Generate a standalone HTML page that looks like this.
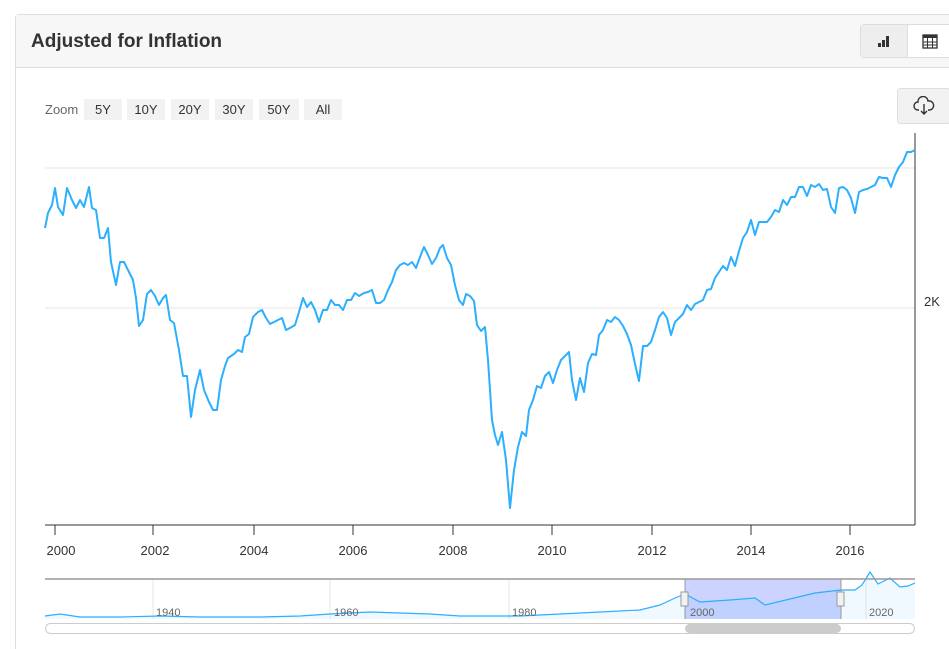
<!DOCTYPE html>
<html style="height:649px;overflow:hidden"><head><meta charset="utf-8"><style>
body{margin:0;background:#fff;width:949px;height:649px;overflow:hidden;font-family:"Liberation Sans",sans-serif;position:relative}
.card{position:absolute;left:15px;top:14px;width:960px;height:634px;border:1px solid #ddd;border-bottom:none;border-radius:4px 4px 0 0}
.hdr{position:absolute;left:0;top:0;right:0;height:52px;background:#f7f7f7;border-bottom:1px solid #ddd}
.title{position:absolute;left:15px;top:16px;font-size:19px;font-weight:bold;color:#333}
.bt{position:absolute;left:860px;top:24px;width:100px;height:32px;border:1px solid #ddd;border-radius:4px;background:#fff}
.bt1{position:absolute;left:0;top:0;width:46px;height:32px;background:#eee;border-right:1px solid #ddd}
.zoom{position:absolute;top:99px;font-size:13px;color:#666}
.zb{position:absolute;top:99px;height:21px;background:#f2f2f2;font-size:13px;color:#333;text-align:center;line-height:21px}
.dl{position:absolute;left:897px;top:88px;width:52px;height:34px;background:#f2f2f2;border:1px solid #ddd;border-radius:4px}
</style></head><body>
<div class="card"><div class="hdr"><div class="title">Adjusted for Inflation</div></div></div>
<div class="bt"><div class="bt1"></div>
<svg style="position:absolute;left:16px;top:9px" width="14" height="14"><rect x="1" y="9" width="3" height="4" fill="#333"/><rect x="5" y="6" width="3" height="7" fill="#333"/><rect x="9" y="2" width="3" height="11" fill="#333"/></svg>
<svg style="position:absolute;left:61px;top:9px" width="16" height="16"><rect x="1" y="1" width="14" height="13" fill="none" stroke="#333" stroke-width="1.3"/><rect x="1" y="1" width="14" height="3" fill="#333"/><path d="M1 8H15M1 11H15M5.5 4V14M10.5 4V14" stroke="#333"/></svg></div>
<div class="zoom" style="left:45px;top:102px">Zoom</div>
<div class="zb" style="left:84px;width:38px">5Y</div>
<div class="zb" style="left:127px;width:38px">10Y</div>
<div class="zb" style="left:171px;width:38px">20Y</div>
<div class="zb" style="left:215px;width:38px">30Y</div>
<div class="zb" style="left:259px;width:40px">50Y</div>
<div class="zb" style="left:304px;width:38px">All</div>
<div class="dl"><svg style="position:absolute;left:15px;top:7px" width="22" height="20"><path d="M6 14H5a4 4 0 0 1 0-8 5 5 0 0 1 10-1 4 4 0 0 1 2 9h-2" fill="none" stroke="#333" stroke-width="1.4"/><path d="M11 8V18M8 15l3 3 3-3" fill="none" stroke="#333" stroke-width="1.4"/></svg></div>
<svg style="position:absolute;left:0;top:0" width="949" height="649">
<line x1="45" y1="168" x2="915" y2="168" stroke="#e6e6e6"/>
<line x1="45" y1="308" x2="915" y2="308" stroke="#e6e6e6"/>
<line x1="915" y1="133" x2="915" y2="525" stroke="#333"/>
<line x1="45" y1="525" x2="915" y2="525" stroke="#333"/>
<text x="924" y="306" font-size="13" fill="#333">2K</text>
<g stroke="#333"><line x1="55" y1="525" x2="55" y2="535"/><line x1="153" y1="525" x2="153" y2="535"/><line x1="254" y1="525" x2="254" y2="535"/><line x1="353" y1="525" x2="353" y2="535"/><line x1="453" y1="525" x2="453" y2="535"/><line x1="552" y1="525" x2="552" y2="535"/><line x1="652" y1="525" x2="652" y2="535"/><line x1="751" y1="525" x2="751" y2="535"/><line x1="850" y1="525" x2="850" y2="535"/></g>
<g font-size="13" fill="#333" text-anchor="middle"><text x="61" y="555">2000</text><text x="155" y="555">2002</text><text x="254" y="555">2004</text><text x="353" y="555">2006</text><text x="453" y="555">2008</text><text x="552" y="555">2010</text><text x="652" y="555">2012</text><text x="751" y="555">2014</text><text x="850" y="555">2016</text></g>
<polyline fill="none" stroke="#2caffe" stroke-width="2" stroke-linejoin="round" points="45,228 48,213 52,205 55,188 58,207 63,215 67,188 72,200 76,208 80,200 84,207 89,187 92,208 96,210 100,238 104,238 108,228 111,262 116,285 120,262 124,262 129,272 133,280 136,298 139,326 143,320 147,294 151,290 155,296 159,305 163,298 166,295 170,320 174,323 179,350 183,376 187,376 191,417 195,390 200,370 204,390 209,402 213,410 217,410 221,380 225,366 228,358 234,354 238,350 242,352 245,337 249,334 253,317 258,312 262,310 266,318 270,324 274,322 278,320 282,318 286,330 290,328 295,325 299,312 303,298 307,307 311,302 315,310 319,322 323,310 327,310 331,300 335,305 339,305 343,310 347,300 351,300 355,293 359,296 364,293 368,292 372,290 376,303 380,303 384,300 388,290 392,282 396,270 400,265 404,263 408,265 412,262 416,268 420,257 424,247 428,255 432,264 436,258 440,248 443,245 447,258 451,265 455,285 459,300 463,305 466,294 470,296 474,301 477,325 481,331 485,327 488,360 492,420 495,435 498,445 502,432 506,460 510,508 514,470 518,447 522,432 526,436 529,410 533,400 537,386 541,388 545,376 549,372 553,383 557,370 561,360 565,356 569,352 572,380 576,400 580,378 584,392 588,363 592,354 596,355 599,335 603,330 607,320 611,322 615,317 619,320 623,326 627,334 631,345 635,364 639,381 643,346 647,346 651,342 655,330 659,317 663,312 667,318 671,335 675,322 679,318 683,314 687,305 691,310 695,304 699,302 703,300 707,290 711,289 715,278 719,272 723,266 727,270 731,257 735,266 739,251 743,238 747,232 751,220 755,235 759,222 763,222 767,222 771,217 775,210 779,212 783,200 787,205 791,197 795,197 799,187 803,187 807,196 811,185 815,187 819,184 823,190 827,189 831,207 835,213 839,188 843,187 847,190 851,198 855,213 859,192 863,190 867,189 871,187 875,185 879,177 883,178 887,178 891,187 895,175 899,167 903,162 907,152 911,152 915,150"/>
<g stroke="#e6e6e6"><line x1="153" y1="579" x2="153" y2="619"/><line x1="330" y1="579" x2="330" y2="619"/><line x1="509" y1="579" x2="509" y2="619"/><line x1="866" y1="579" x2="866" y2="619"/></g>
<rect x="685" y="579" width="156" height="40" fill="#ccd3ff"/>
<path d="M45,616 L60,614 L80,617 L120,617 L160,616 L200,617 L260,617 L300,616 L330,614 L370,612 L400,613 L430,614 L460,616 L490,616 L520,616 L560,614 L600,612 L640,610 L660,605 L675,598 L685,594 L700,602 L730,600 L755,598 L765,605 L790,599 L815,593 L841,590 L855,590 L862,585 L870,572 L878,584 L890,578 L900,587 L908,586 L915,583 L915,619 L45,619Z" fill="rgba(44,175,254,0.07)" stroke="none"/>
<polyline fill="none" stroke="#2caffe" stroke-width="1.2" points="45,616 60,614 80,617 120,617 160,616 200,617 260,617 300,616 330,614 370,612 400,613 430,614 460,616 490,616 520,616 560,614 600,612 640,610 660,605 675,598 685,594 700,602 730,600 755,598 765,605 790,599 815,593 841,590 855,590 862,585 870,572 878,584 890,578 900,587 908,586 915,583"/>
<line x1="45" y1="579" x2="915" y2="579" stroke="#999" stroke-width="1.5"/>
<line x1="685" y1="579" x2="685" y2="619" stroke="#999"/><line x1="841" y1="579" x2="841" y2="619" stroke="#999"/>
<rect x="681" y="592" width="7" height="14" fill="#f2f2f2" stroke="#999"/><rect x="837" y="592" width="7" height="14" fill="#f2f2f2" stroke="#999"/>
<g font-size="11" fill="#666"><text x="156" y="616">1940</text><text x="334" y="616">1960</text><text x="512" y="616">1980</text><text x="690" y="616">2000</text><text x="869" y="616">2020</text></g>
<rect x="45.5" y="623.5" width="869" height="10" rx="5" fill="#fff" stroke="#ccc"/>
<rect x="685" y="624" width="156" height="9" rx="4.5" fill="#ccc"/>
</svg>
</body></html>
